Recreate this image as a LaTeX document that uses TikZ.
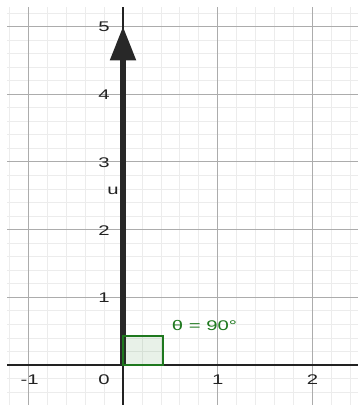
\documentclass[tikz,border=0pt]{standalone}
\usepackage{fontspec}
\setmainfont{Liberation Sans}
\newfontfamily\ggbfont[FakeStretch=1.45]{Liberation Sans}
\usepackage{tikz}
\usetikzlibrary{arrows.meta,positioning}
\definecolor{ink}{RGB}{34,34,34}
\definecolor{vecgray}{RGB}{40,40,40}
\definecolor{anglegreen}{RGB}{30,120,30}
\definecolor{minorline}{RGB}{236,236,236}
\definecolor{majorline}{RGB}{172,172,172}
\tikzset{
  minorgrid/.style={line width=0.8pt,minorline},
  majorgrid/.style={line width=1pt,majorline},
  axis/.style={line width=1.5pt,ink},
  vector/.style={line width=5.5pt,vecgray,-{Triangle[length=34pt,width=25pt]}},
  ticklabel/.style={font=\ggbfont\fontsize{14}{15}\selectfont,text=ink,inner sep=0pt},
  rightangle/.style={line width=1.6pt,draw=anglegreen,fill=anglegreen,fill opacity=0.1},
  anglelabel/.style={font=\ggbfont\fontsize{14}{15}\selectfont,text=anglegreen,inner sep=0pt}
}
\begin{document}
\begin{tikzpicture}[x=94.8pt,y=67.7pt]
  \useasboundingbox (-1.2975,-0.5908) rectangle (2.479,5.3914);
  \fill[white] (-1.2975,-0.5908) rectangle (2.479,5.3914);
  % grid
  \foreach \gx in {-1.2,-1.0,...,2.41}
    \draw[minorgrid] (\gx,-0.5908) -- (\gx,5.29);
  \foreach \gy in {-0.4,-0.2,...,5.21}
    \draw[minorgrid] (-1.22,\gy) -- (2.479,\gy);
  \foreach \gx in {-1,1,2}
    \draw[majorgrid] (\gx,-0.5908) -- (\gx,5.29);
  \foreach \gy in {1,...,5}
    \draw[majorgrid] (-1.22,\gy) -- (2.479,\gy);
  % axes
  \draw[axis] (-1.22,0) -- (2.479,0);
  \draw[axis] (0,-0.5908) -- (0,5.29);
  \node[ticklabel] (tm1) at (-0.985,-0.22) {-1};
  \node[ticklabel] (t0) at (-0.2,-0.22) {0};
  \node[ticklabel] (t1) at (1,-0.22) {1};
  \node[ticklabel] (t2) at (2,-0.22) {2};
  \foreach \ty in {1,...,5}
    \node[ticklabel] (ty\ty) at (-0.2,\ty-0.01) {\ty};
  % vector u
  \coordinate (o) at (0,0);
  \coordinate (tip) at (0,5);
  \draw[vector] (o) -- (tip);
  \node[ticklabel] (ulabel) at (-0.105,2.57) {u};
  % right angle
  \draw[rightangle] (o) rectangle (0.42,0.43);
  \node[anglelabel] (theta) at (0.86,0.59) {θ = 90°};
\end{tikzpicture}
\end{document}
